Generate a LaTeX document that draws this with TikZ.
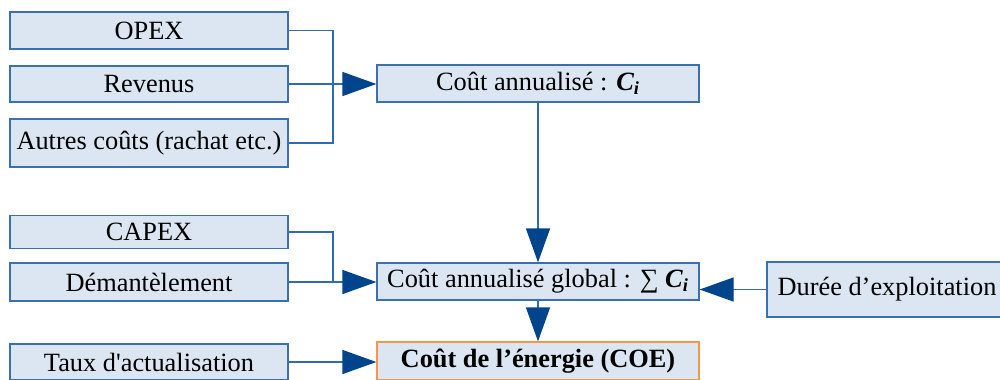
\documentclass[tikz,border=0pt]{standalone}
\usepackage{fontspec}
\setmainfont{Liberation Serif}
\usetikzlibrary{arrows.meta,positioning}
\definecolor{boxfill}{HTML}{DCE6F2}
\definecolor{boxline}{HTML}{3A6FB0}
\definecolor{linkblue}{HTML}{2F6BB0}
\definecolor{tipblue}{HTML}{00448C}
\definecolor{coeline}{HTML}{F79646}
\tikzset{
  box/.style={rectangle,draw=boxline,fill=boxfill,line width=0.7pt,inner sep=1pt,font=\fontsize{15pt}{18pt}\selectfont},
  inbox/.style={box,minimum width=5.56cm},
  midbox/.style={box,minimum width=6.44cm,minimum height=0.74cm},
  coebox/.style={midbox,draw=coeline,font=\fontsize{15pt}{18pt}\selectfont\bfseries},
  link/.style={draw=linkblue,line width=0.7pt},
  flow/.style={link,-{Triangle[length=0.68cm,width=0.48cm,color=tipblue]}}
}
\begin{document}
\begin{tikzpicture}
  \useasboundingbox (0,0) rectangle (20,-7.58);
  % inputs
  \node[inbox,minimum height=0.74cm] (opex) at (2.98,-0.61) {OPEX};
  \node[inbox,minimum height=0.72cm] (rev) at (2.98,-1.68) {Revenus};
  \node[inbox,minimum height=0.96cm] (autres) at (2.98,-2.86) {Autres coûts (rachat etc.)};
  \node[inbox,minimum height=0.66cm] (capex) at (2.98,-4.64) {CAPEX};
  \node[inbox,minimum height=0.76cm] (demant) at (2.98,-5.64) {Démantèlement};
  \node[inbox,minimum height=0.72cm] (taux) at (2.98,-7.24) {Taux d\textquotesingle actualisation};
  % costs
  \node[midbox] (cout) at (10.76,-1.67) {Coût annualisé : \textbf{\textit{C\textsubscript{i}}}};
  \node[midbox] (global) at (10.76,-5.63) {Coût annualisé global : ∑ \textbf{\textit{C\textsubscript{i}}}};
  \node[coebox,minimum height=0.76cm] (coe) at (10.76,-7.22) {Coût de l’énergie (COE)};
  \node[box,minimum width=4.8cm,minimum height=1.1cm] (duree) at (17.74,-5.79) {Durée d’exploitation};

  \coordinate (j1) at (6.66,-1.68);
  \coordinate (j2) at (6.66,-5.64);

  \draw[link] (opex.east) -| (j1) |- (autres.east);
  \draw[flow] (rev.east) -- (rev.east -| cout.west);
  \draw[link] (capex.east) -| (j2);
  \draw[flow] (demant.east) -- (demant.east -| global.west);
  \draw[flow] (cout.south) -- (global.north);
  \draw[flow] (global.south) -- (coe.north);
  \draw[flow] (duree.west) -- (duree.west -| global.east);
  \draw[flow] (taux.east) -- (taux.east -| coe.west);
\end{tikzpicture}
\end{document}
